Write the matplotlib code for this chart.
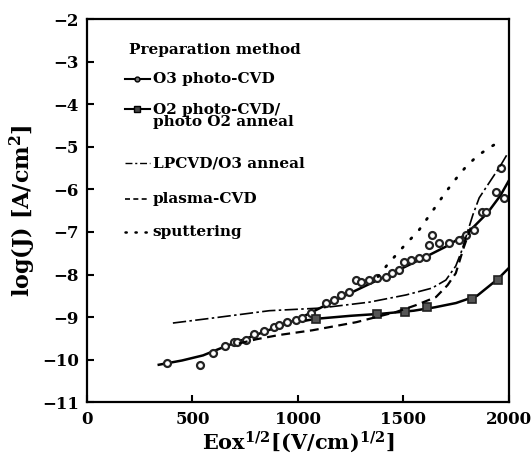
import matplotlib.pyplot as plt
import numpy as np

plt.rcParams['font.family'] = 'DejaVu Serif'
plt.rcParams['font.weight'] = 'bold'
plt.rcParams['mathtext.fontset'] = 'dejavuserif'
plt.rcParams['mathtext.default'] = 'bf'

# O3 photo-CVD measured points (circles)
o3_x = [378, 535, 596, 652, 695, 709, 752, 794, 837, 889, 912, 950, 993, 1021, 1064,
        1135, 1172, 1205, 1243, 1277, 1300, 1338, 1376, 1418, 1447, 1480, 1503, 1537,
        1574, 1608, 1622, 1636, 1669, 1716, 1764, 1797, 1835, 1872, 1891, 1938, 1962, 1976]
o3_y = [-10.08, -10.12, -9.85, -9.68, -9.59, -9.59, -9.54, -9.40, -9.33, -9.24, -9.19, -9.12,
        -9.07, -9.03, -8.91, -8.67, -8.60, -8.48, -8.41, -8.13, -8.18, -8.13, -8.09, -8.06,
        -7.97, -7.90, -7.71, -7.66, -7.62, -7.59, -7.31, -7.07, -7.26, -7.26, -7.19, -7.07,
        -6.95, -6.53, -6.53, -6.06, -5.50, -6.20]
# O3 fit line
o3_fx = [340, 450, 550, 650, 800, 1000, 1200, 1400, 1600, 1700, 1800, 1900, 1960, 2000]
o3_fy = [-10.12, -10.02, -9.90, -9.70, -9.42, -9.05, -8.55, -8.08, -7.60, -7.35, -7.05, -6.55, -6.15, -5.80]

# O2 photo-CVD / photo O2 anneal (squares)
o2_x = [1087, 1376, 1508, 1612, 1825, 1948]
o2_y = [-9.05, -8.93, -8.88, -8.77, -8.58, -8.13]
o2_fx = [1040, 1087, 1250, 1400, 1550, 1650, 1750, 1850, 1950, 2000]
o2_fy = [-9.08, -9.04, -8.97, -8.92, -8.85, -8.77, -8.67, -8.50, -8.10, -7.85]

# LPCVD / O3 anneal
lp_x = [407, 600, 865, 1102, 1338, 1513, 1636, 1702, 1749, 1778, 1797, 1830, 1860, 1920, 1960, 1990]
lp_y = [-9.14, -9.02, -8.85, -8.79, -8.65, -8.48, -8.32, -8.13, -7.80, -7.43, -7.12, -6.60,
        -6.20, -5.75, -5.45, -5.20]

# plasma-CVD
pl_x = [720, 804, 912, 1069, 1277, 1466, 1560, 1655, 1710, 1749, 1787, 1820]
pl_y = [-9.62, -9.52, -9.42, -9.31, -9.12, -8.88, -8.72, -8.53, -8.25, -7.97, -7.36, -6.90]

# sputtering
sp_x = [1380, 1423, 1500, 1574, 1640, 1702, 1750, 1797, 1850, 1905, 1953]
sp_y = [-8.05, -7.78, -7.35, -6.96, -6.50, -6.06, -5.75, -5.47, -5.22, -5.03, -4.89]

# legend texts
leg_title = 'Preparation method'
leg_labels = ['O3 photo-CVD', 'O2 photo-CVD/\nphoto O2 anneal', 'LPCVD/O3 anneal',
              'plasma-CVD', 'sputtering']

fig = plt.figure(figsize=(5.31, 4.65), dpi=100)
ax = fig.add_axes([0.164, 0.135, 0.794, 0.824])

ax.plot(o3_fx, o3_fy, '-', color='black', lw=1.8)
ax.plot(o3_x, o3_y, 'o', ms=5, mfc='white', mec='#222222', mew=1.6)
ax.plot(o2_fx, o2_fy, '-', color='black', lw=1.8)
ax.plot(o2_x, o2_y, 's', ms=6, mfc='#555555', mec='#222222', mew=1.2)
ax.plot(lp_x, lp_y, color='black', lw=1.2, dashes=[8, 2, 1.5, 2])
ax.plot(pl_x, pl_y, color='black', lw=1.6, dashes=[4, 2.5])
ax.plot(sp_x, sp_y, color='black', lw=2.0, ls=(0, (0.5, 4)), dash_capstyle='round')

ax.set_xlim(0, 2000)
ax.set_ylim(-11, -2)
ax.set_xticks([0, 500, 1000, 1500, 2000])
ax.set_yticks(range(-11, -1))
ax.tick_params(direction='in', length=5, width=1.5, labelsize=12, pad=6)
for s in ax.spines.values():
    s.set_linewidth(1.6)

ax.set_ylabel('log(J) [A/cm$^2$]', fontsize=16, fontweight='bold', labelpad=3)
ax.set_xlabel('Eox$^{1/2}$[(V/cm)$^{1/2}$]', fontsize=15, fontweight='bold', labelpad=1)

# legend, drawn by hand to follow the original spacing
tr = ax.transAxes
hx0, hx1, tx = 0.090, 0.149, 0.156
rows = [0.843, 0.765, 0.624, 0.530, 0.444]
styles = [
    dict(lw=1.5, marker='o', ms=3.5, mfc='#777777', mec='black', markevery=[1]),
    dict(lw=1.5, marker='s', ms=4, mfc='#444444', mec='black', markevery=[1]),
    dict(lw=1.0, dashes=[5, 2, 1.5, 2]),
    dict(lw=1.2, dashes=[3, 2]),
    dict(lw=1.8, ls=(0, (0.5, 3.5)), dash_capstyle='round'),
]
ax.text(0.099, 0.919, leg_title, transform=tr, fontsize=11, fontweight='bold',
        va='center', ha='left')
for y, lab, st in zip(rows, leg_labels, styles):
    ax.plot([hx0, (hx0 + hx1) / 2, hx1], [y, y, y], color='black', transform=tr, **st)
    if '\n' in lab:
        ax.text(tx, y + 0.017, lab, transform=tr, fontsize=11, fontweight='bold',
                va='top', ha='left', linespacing=0.85)
    else:
        ax.text(tx, y, lab, transform=tr, fontsize=11, fontweight='bold',
                va='center', ha='left')

fig.savefig('out.png', dpi=100)
